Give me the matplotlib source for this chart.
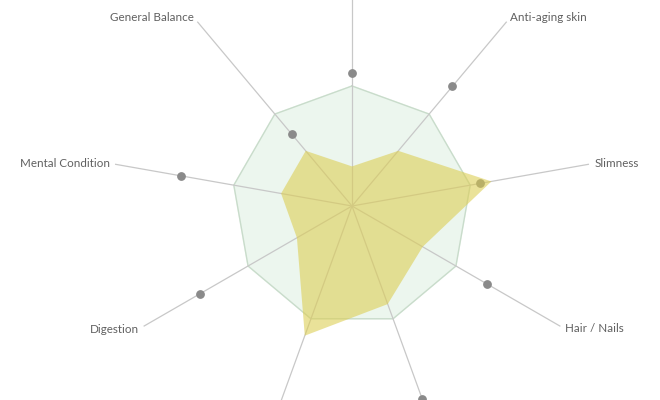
import numpy as np
import matplotlib
matplotlib.use("Agg")
import matplotlib.pyplot as plt

categories = ["Energy", "Anti-aging skin", "Slimness", "Hair / Nails", "Sleep",
              "Immunity", "Digestion", "Mental Condition", "General Balance"]
current_values = [33, 60, 118, 68, 87, 115, 53, 60, 60]
target_values = [111, 130, 108, 130, 171, 185, 146, 145, 78]
reference_level = 100
axis_length = 200
label_radius = 205

n = len(categories)
theta = np.arange(n) * 2 * np.pi / n
theta_closed = np.append(theta, theta[0])

fig = plt.figure(figsize=(6.6, 4.0), dpi=100)
R_px = 252.0
cx, cy = 352.0, 194.0
ax = fig.add_axes([(cx - R_px) / 660, (cy - R_px) / 400, 2 * R_px / 660, 2 * R_px / 400],
                  projection="polar")
ax.set_theta_zero_location("N")
ax.set_theta_direction(-1)
ax.set_ylim(0, 210)
ax.axis("off")

# reference polygon
ref = np.full(n + 1, reference_level)
ax.fill(theta_closed, ref, color="#ecf6ee", zorder=1)
ax.plot(theta_closed, ref, color="#c9dccb", lw=1.0, zorder=2)

# spokes
for t in theta:
    ax.plot([t, t], [0, axis_length], color="#c8c8c8", lw=0.9, zorder=3)

# target dots
ax.scatter(theta, target_values, s=28, color="#8a8a8a", zorder=4, clip_on=False)

# current values
cur = np.append(current_values, current_values[0])
ax.fill(theta_closed, cur, color="#dccd50", alpha=0.58, lw=0, zorder=5)

# labels
texts = []
for t, lab in zip(theta, categories):
    s = np.sin(t)
    if abs(s) < 0.1:
        ha = "center"
    elif s > 0:
        ha = "left"
    else:
        ha = "right"
    texts.append(ax.text(t, label_radius, lab, ha=ha, va="center", fontsize=8.4,
                         color="#606060", family="Lato", clip_on=False))

# labels that fall outside the canvas are not shown (as in the original crop)
fig.canvas.draw()
renderer = fig.canvas.get_renderer()
W, H = fig.canvas.get_width_height()
for tx in texts:
    bb = tx.get_window_extent(renderer)
    if bb.x0 < 0 or bb.y0 < 0 or bb.x1 > W or bb.y1 > H:
        tx.set_visible(False)

fig.savefig("out.png", dpi=100)
